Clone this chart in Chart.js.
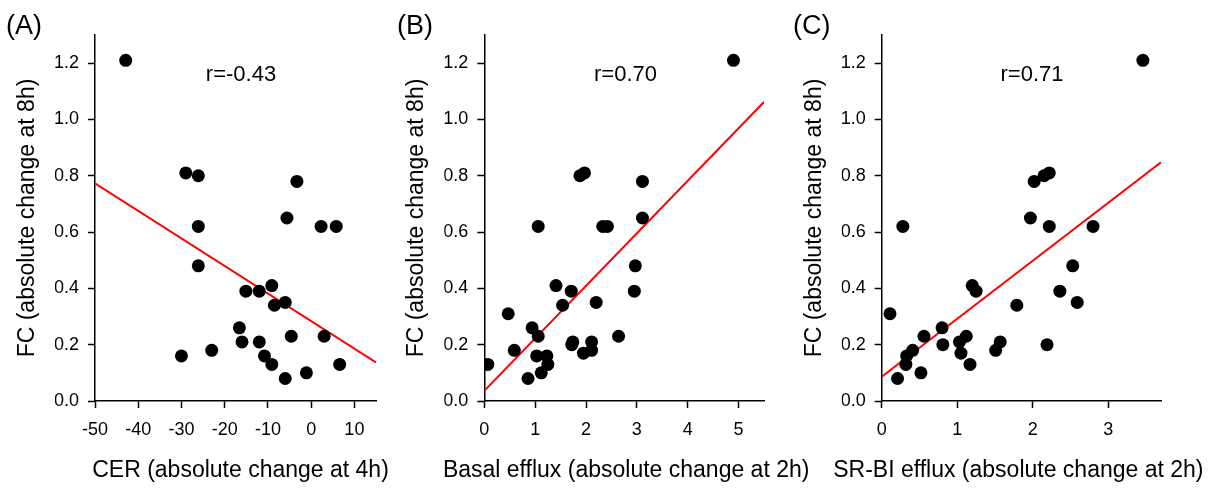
<!DOCTYPE html>
<html>
<head>
<meta charset="utf-8">
<script src="https://cdn.jsdelivr.net/npm/chart.js@4.4.1/dist/chart.umd.min.js"></script>
<style>
html, body { margin: 0; padding: 0; background: #fff; }
#wrap { position: relative; width: 1226px; height: 493px; overflow: hidden; }
.panel { position: absolute; top: 0; height: 493px; }
</style>
</head>
<body>
<div id="wrap">
  <div class="panel" style="left:0px;width:400px"><canvas id="chartA" width="400" height="493"></canvas></div>
  <div class="panel" style="left:390px;width:440px"><canvas id="chartB" width="440" height="493"></canvas></div>
  <div class="panel" style="left:785px;width:441px"><canvas id="chartC" width="441" height="493"></canvas></div>
</div>
<script>
// --- datos ---
const yTicks = [0, 0.2, 0.4, 0.6, 0.8, 1.0, 1.2];
const yLabel = "FC (absolute change at 8h)";

// (A) CER
const xTicksA = [-50, -40, -30, -20, -10, 0, 10];
const xA = [-42.9, -29.0, -26.1, -3.3, -5.6, -26.1, 2.3, 5.8, -26.1, -15.1, -12.0, -9.1, -8.5, -6.0,
            -16.6, -16.0, -12.0, -4.6, 3.0, -30.0, -23.0, -10.8, -9.1, -6.0, -1.1, 6.6];
const yA = [1.21, 0.81, 0.80, 0.78, 0.65, 0.62, 0.62, 0.62, 0.48, 0.39, 0.39, 0.41, 0.34, 0.35,
            0.26, 0.21, 0.21, 0.23, 0.23, 0.16, 0.18, 0.16, 0.13, 0.08, 0.10, 0.13];
const fitAX = [-50, 15];
const fitAY = [0.773, 0.137];
const rA = "r=-0.43";
const xLabelA = "CER (absolute change at 4h)";

// (B) Basal efflux
const xTicksB = [0, 1, 2, 3, 4, 5];
const xB = [4.90, 1.88, 1.97, 3.11, 3.11, 1.06, 2.33, 2.42, 2.97, 2.95, 1.41, 1.71, 1.54, 2.20, 0.47,
            0.94, 1.06, 2.64, 1.74, 1.72, 2.11, 1.95, 2.11, 0.59, 1.03, 1.23, 1.25, 0.07, 1.12, 0.86];
const yB = [1.21, 0.80, 0.81, 0.78, 0.65, 0.62, 0.62, 0.62, 0.48, 0.39, 0.41, 0.39, 0.34, 0.35, 0.31,
            0.26, 0.23, 0.23, 0.21, 0.20, 0.21, 0.17, 0.18, 0.18, 0.16, 0.16, 0.13, 0.13, 0.10, 0.08];
const fitBX = [0, 5.5];
const fitBY = [0.036, 1.062];
const rB = "r=0.70";
const xLabelB = "Basal efflux (absolute change at 2h)";

// (C) SR-BI efflux
const xTicksC = [0, 1, 2, 3];
const xC = [3.46, 2.02, 2.15, 2.22, 1.97, 0.28, 2.22, 2.80, 2.53, 2.36, 2.59, 1.20, 1.25, 1.79, 0.11,
            0.80, 0.56, 1.12, 0.81, 1.03, 1.57, 1.51, 2.19, 1.05, 0.41, 0.33, 0.32, 1.17, 0.52, 0.21];
const yC = [1.21, 0.78, 0.80, 0.81, 0.65, 0.62, 0.62, 0.62, 0.48, 0.39, 0.35, 0.41, 0.39, 0.34, 0.31,
            0.26, 0.23, 0.23, 0.20, 0.21, 0.21, 0.18, 0.20, 0.17, 0.18, 0.16, 0.13, 0.13, 0.10, 0.08];
const fitCX = [0, 3.7];
const fitCY = [0.086, 0.848];
const rC = "r=0.71";
const xLabelC = "SR-BI efflux (absolute change at 2h)";

const FONT = "'Liberation Sans', Arial, sans-serif";

function pares(xs, ys) {
  return xs.map((x, i) => ({ x: x, y: ys[i] }));
}

// textos: letra del panel, r, títulos de ejes
const textos = {
  id: "textos",
  afterDraw(chart, args, o) {
    const ctx = chart.ctx;
    const a = chart.chartArea;
    ctx.save();
    ctx.fillStyle = "#000";
    ctx.textBaseline = "alphabetic";

    ctx.font = "27px " + FONT;
    ctx.textAlign = "left";
    ctx.fillText(o.letra, o.letraX, 34);

    ctx.font = "22px " + FONT;
    ctx.textAlign = "center";
    ctx.fillText(o.r, o.rX, 81);

    ctx.font = "23px " + FONT;
    ctx.fillText(o.xTitulo, (a.left + a.right) / 2 + o.xOff, 477);

    ctx.translate(a.left - 61, (a.top + a.bottom) / 2);
    ctx.rotate(-Math.PI / 2);
    ctx.fillText(yLabel, 0, 0);
    ctx.restore();
  }
};

function eje(ticks, min, max, fmt, ancho, alto) {
  return {
    type: "linear",
    min: min,
    max: max,
    afterBuildTicks: s => { s.ticks = ticks.map(v => ({ value: v })); },
    afterFit: s => { if (ancho) s.width = ancho; if (alto) s.height = alto; },
    grid: { display: true, drawOnChartArea: false, drawTicks: true, tickLength: 7, tickWidth: 1.5, tickColor: "#000" },
    border: { display: true, color: "#000", width: 1.5 },
    ticks: {
      color: "#000",
      font: { family: FONT, size: 18 },
      padding: fmt ? 9 : 11,
      maxRotation: 0,
      autoSkip: false,
      callback: v => fmt ? v.toFixed(1) : String(v)
    }
  };
}

function generarPanel(id, xs, ys, fx, fy, xTicks, xMin, xMax, cfg) {
  new Chart(document.getElementById(id), {
    type: "scatter",
    data: {
      datasets: [
        {
          type: "line",
          data: pares(fx, fy),
          borderColor: "#ff0000",
          borderWidth: 2,
          pointRadius: 0,
          fill: false,
          order: 2
        },
        {
          data: pares(xs, ys),
          backgroundColor: "#000",
          borderColor: "#000",
          borderWidth: 0,
          pointRadius: 6.5,
          order: 1
        }
      ]
    },
    options: {
      responsive: false,
      animation: false,
      layout: { padding: { left: cfg.izq - 40, right: cfg.der, top: 35, bottom: 52 } },
      scales: {
        x: eje(xTicks, xMin, xMax, false, 0, 40),
        y: eje(yTicks, 0, 1.3, true, 40, 0)
      },
      plugins: {
        legend: { display: false },
        tooltip: { enabled: false },
        textos: cfg.textos
      }
    },
    plugins: [textos]
  });
}

generarPanel("chartA", xA, yA, fitAX, fitAY, xTicksA, -50, 15,
  { izq: 95, der: 400 - 376, textos: { letra: "(A)", letraX: 6, r: rA, rX: 241, xTitulo: xLabelA, xOff: 5 } });
generarPanel("chartB", xB, yB, fitBX, fitBY, xTicksB, 0, 5.5,
  { izq: 94.3, der: 440 - 374, textos: { letra: "(B)", letraX: 7, r: rB, rX: 235.5, xTitulo: xLabelB, xOff: 2 } });
generarPanel("chartC", xC, yC, fitCX, fitCY, xTicksC, 0, 3.7,
  { izq: 96.7, der: 441 - 376, textos: { letra: "(C)", letraX: 8, r: rC, rX: 247, xTitulo: xLabelC, xOff: -3 } });
</script>
</body>
</html>
